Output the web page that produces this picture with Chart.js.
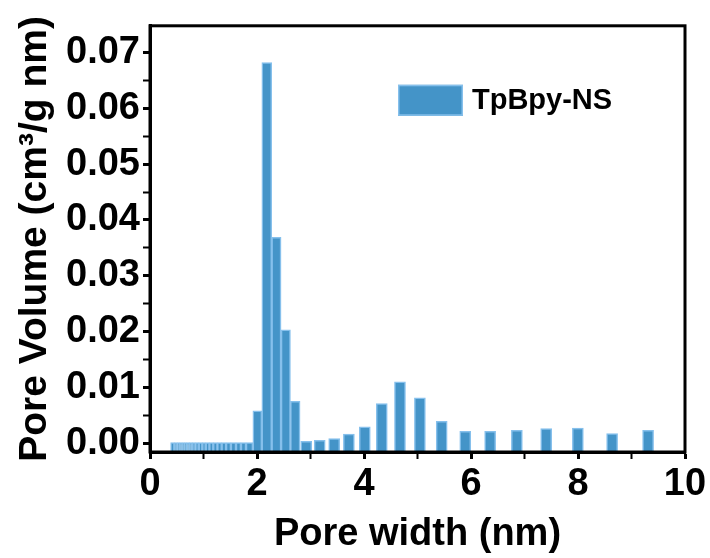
<!DOCTYPE html>
<html>
<head>
<meta charset="utf-8">
<script src="https://cdn.jsdelivr.net/npm/chart.js@4/dist/chart.umd.min.js"></script>
<style>
  body { margin: 0; background: #fff; }
</style>
</head>
<body>
<canvas id="psdChart" width="710" height="558"></canvas>
<script>
// pore width (nm) and pore volume (cm3/g nm)
var poreWidth = [
  0.42, 0.49, 0.535, 0.58, 0.62, 0.665, 0.71, 0.76, 0.82, 0.88, 0.945,
  1.01, 1.075, 1.145, 1.22, 1.30, 1.38, 1.465, 1.56, 1.655, 1.745, 1.845,
  2.0, 2.18, 2.37, 2.53, 2.72, 2.89,
  3.18, 3.44, 3.71, 4.01, 4.33, 4.66, 5.04, 5.44, 5.89,
  6.35, 6.84, 7.40, 7.98, 8.63, 9.31
];
var poreVolume = [
  0.0001, 0.0001, 0.0001, 0.0001, 0.0001, 0.0001, 0.0001, 0.0001, 0.0001, 0.0001, 0.0001,
  0.0001, 0.0001, 0.0001, 0.0001, 0.0001, 0.0001, 0.0001, 0.0001, 0.0001, 0.0001, 0.0001,
  0.0058, 0.0682, 0.0369, 0.0203, 0.0075, 0.0003,
  0.0005, 0.0008, 0.0016, 0.0029, 0.0071, 0.0110, 0.0081, 0.0039, 0.0021,
  0.0021, 0.0023, 0.0026, 0.0027, 0.0017, 0.0023
];
var seriesName = "TpBpy-NS";
var xTicks = [0, 2, 4, 6, 8, 10];
var yMin = -0.0016;
var yMax = 0.0748;

var fontFamily = 'Arial, "Liberation Sans", sans-serif';
var barFill = "#4494c8";
var barEdge = "#86c0ec";

// box round the plot area
var framePlugin = {
  id: "frame",
  afterDraw: function (chart) {
    var a = chart.chartArea;
    var ctx = chart.ctx;
    ctx.save();
    ctx.strokeStyle = "#000";
    ctx.lineWidth = 3;
    ctx.strokeRect(a.left, a.top, a.right - a.left, a.bottom - a.top);
    ctx.restore();
  }
};

// legend sits inside the plot, upper right
var insideLegend = {
  id: "insideLegend",
  afterDraw: function (chart) {
    var a = chart.chartArea;
    var ctx = chart.ctx;
    var ds = chart.data.datasets[0];
    var x = a.left + 248, y = a.top + 59;
    ctx.save();
    ctx.fillStyle = ds.backgroundColor;
    ctx.fillRect(x, y, 65, 31);
    ctx.strokeStyle = ds.borderColor;
    ctx.lineWidth = 1.5;
    ctx.strokeRect(x + 0.75, y + 0.75, 63.5, 29.5);
    ctx.fillStyle = "#000";
    ctx.font = "bold 29px " + fontFamily;
    ctx.textBaseline = "middle";
    ctx.fillText(ds.label, x + 74, y + 16);
    ctx.restore();
  }
};

var ctx = document.getElementById("psdChart").getContext("2d");
var chart = new Chart(ctx, {
  type: "bar",
  data: {
    datasets: [
      {
        label: seriesName,
        data: poreWidth.map(function (w, i) { return { x: w, y: poreVolume[i] }; }),
        backgroundColor: barFill,
        borderColor: barEdge,
        borderWidth: 1.5,
        borderSkipped: "start",
        base: yMin,
        barThickness: "flex",
        maxBarThickness: 11,
        barPercentage: 1,
        categoryPercentage: 1
      }
    ]
  },
  options: {
    responsive: false,
    animation: false,
    layout: { padding: { top: 25, right: 25, left: 0, bottom: 0 } },
    plugins: {
      legend: { display: false },
      tooltip: { enabled: false }
    },
    scales: {
      x: {
        type: "linear",
        min: 0,
        max: 10,
        offset: false,
        grid: {
          offset: false,
          drawOnChartArea: false,
          tickLength: 7,
          tickColor: "#000",
          tickWidth: function (c) { return xTicks.indexOf(c.tick.value) >= 0 ? 3 : 2; }
        },
        border: { color: "#000", width: 3 },
        ticks: {
          stepSize: 1,
          autoSkip: false,
          maxRotation: 0,
          padding: 3,
          color: "#000",
          font: { family: fontFamily, size: 38, weight: "bold" },
          callback: function (v) { return xTicks.indexOf(v) >= 0 ? String(v) : ""; }
        },
        title: {
          display: true,
          text: "Pore width (nm)",
          color: "#000",
          font: { family: fontFamily, size: 38, weight: "bold" },
          padding: { top: 0, bottom: 1 }
        },
        afterFit: function (scale) { scale.height = 106; }
      },
      y: {
        min: yMin,
        max: yMax,
        grid: {
          drawOnChartArea: false,
          tickLength: 7,
          tickColor: "#000",
          tickWidth: function (c) {
            var v = c.tick.value * 100;
            return Math.abs(v - Math.round(v)) < 1e-6 ? 3 : 2;
          }
        },
        border: { color: "#000", width: 3 },
        ticks: {
          stepSize: 0.005,
          includeBounds: false,
          autoSkip: false,
          padding: 3,
          color: "#000",
          font: { family: fontFamily, size: 38, weight: "bold" },
          callback: function (v) {
            var s = v * 100;
            return Math.abs(s - Math.round(s)) < 1e-6 ? v.toFixed(2) : "";
          }
        },
        title: {
          display: true,
          text: "Pore Volume (cm\u00b3/g nm)",
          color: "#000",
          font: { family: fontFamily, size: 39, weight: "bold" },
          padding: { top: 12, bottom: 0 }
        },
        afterFit: function (scale) { scale.width = 150; }
      }
    }
  },
  plugins: [framePlugin, insideLegend]
});
</script>
</body>
</html>
